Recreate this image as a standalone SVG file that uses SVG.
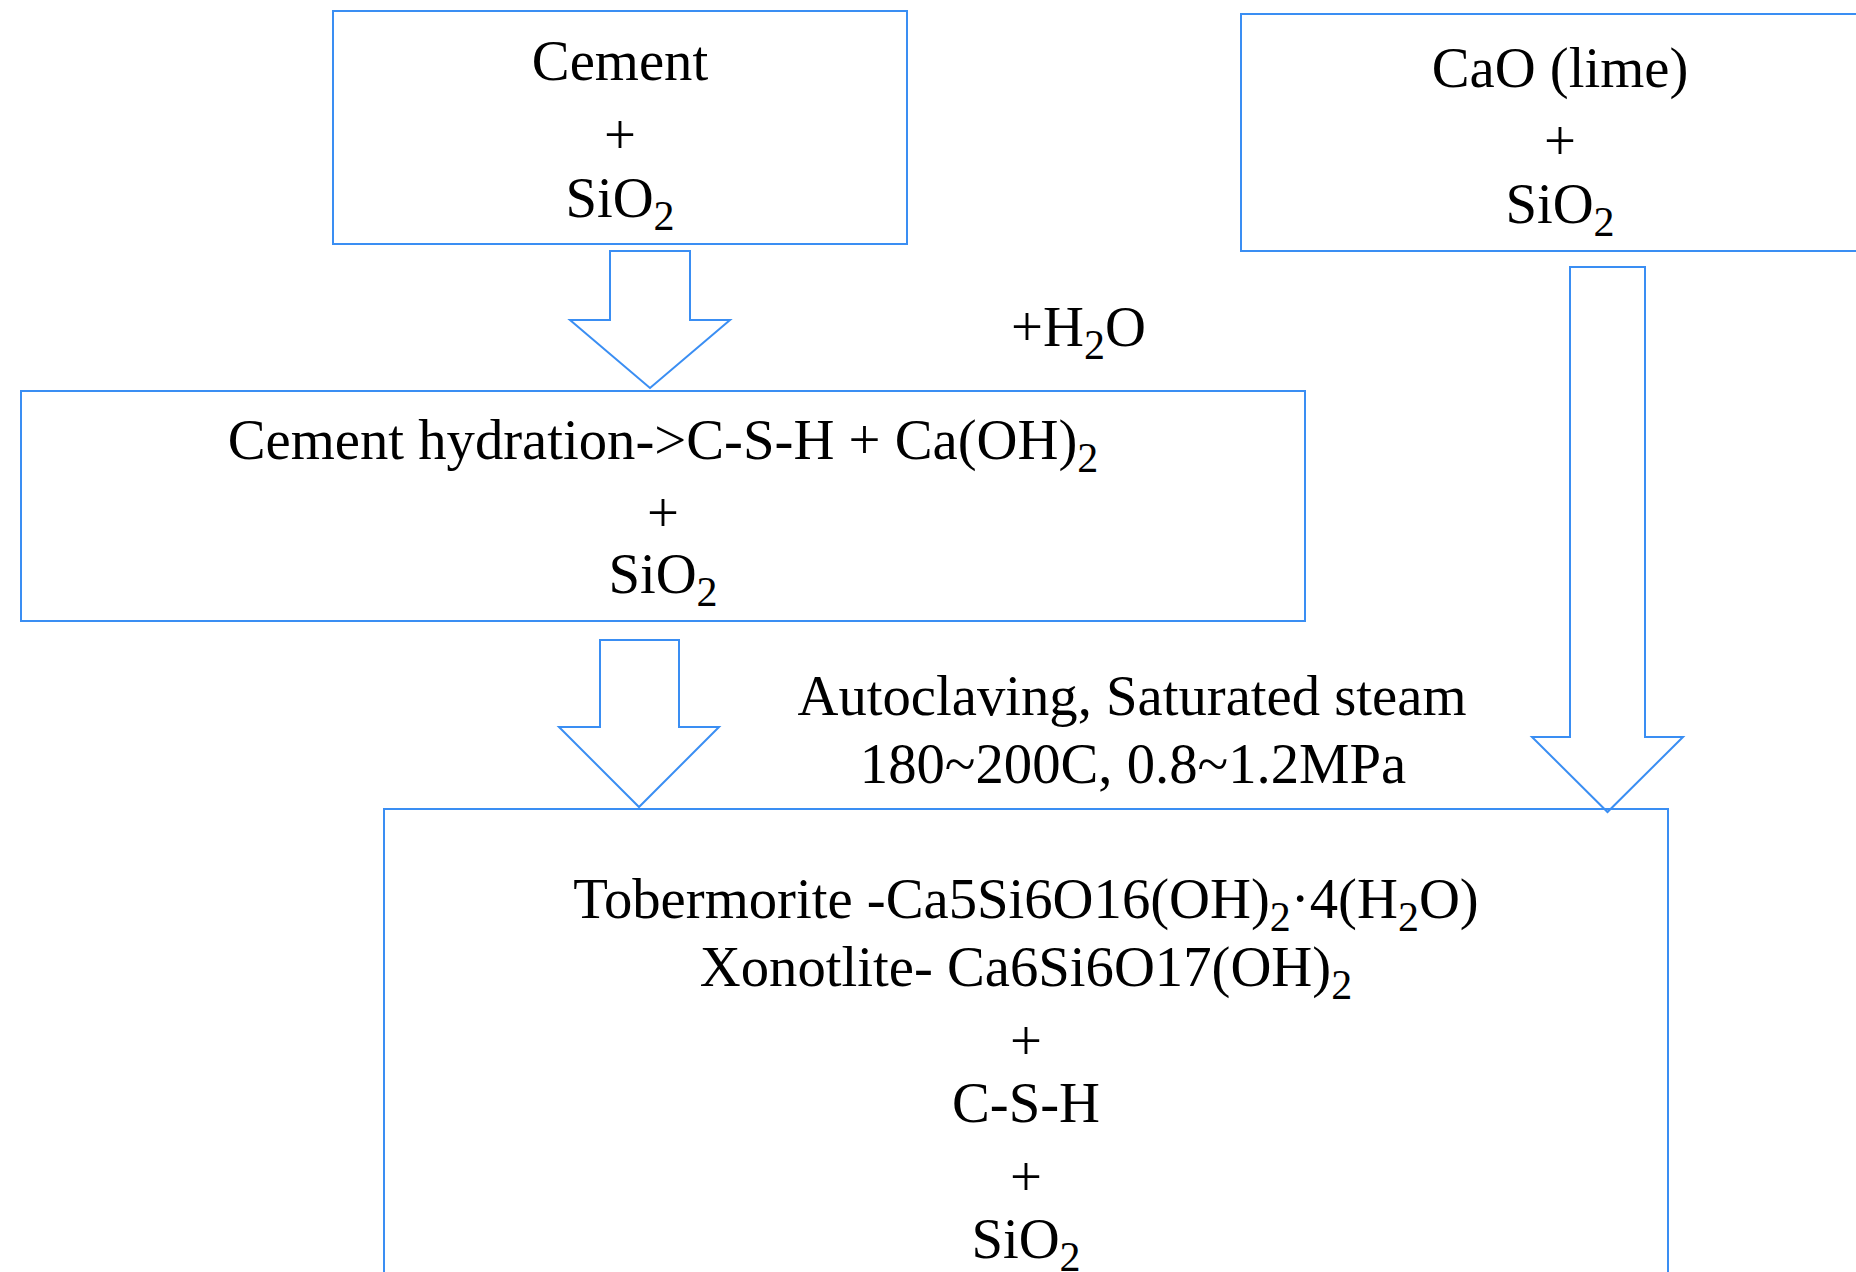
<svg xmlns="http://www.w3.org/2000/svg" width="1856" height="1272" viewBox="0 0 1856 1272">
  <style>
    .box { fill: none; stroke: #3a8ef3; stroke-width: 2; }
    .arrow { fill: none; stroke: #3a8ef3; stroke-width: 2; stroke-linejoin: miter; }
    .t { font-family: "Liberation Serif", "Times New Roman", serif; font-size: 56.7px; fill: #000; text-anchor: middle; }
    .ts { text-anchor: start; }
    .sub { font-size: 42px; }
  </style>
  <rect width="1856" height="1272" fill="#ffffff"/>

  <g id="connectors">
    <polygon class="arrow" points="610,251 690,251 690,320 730,320 650,388 570,320 610,320"/>
    <polygon class="arrow" points="600,640 679,640 679,727 719,727 639,807 559,727 600,727"/>
    <polygon class="arrow" points="1570,267 1645,267 1645,737 1683,737 1607.5,812 1532,737 1570,737"/>
  </g>

  <g id="node-cement">
    <rect class="box" x="333" y="11" width="574" height="233"/>
    <text class="t" x="620" y="80">Cement</text>
    <text class="t" x="620" y="154">+</text>
    <text class="t" x="620" y="217">SiO<tspan class="sub" dy="13">2</tspan></text>
  </g>

  <g id="node-cao">
    <rect class="box" x="1241" y="14" width="638" height="237"/>
    <text class="t" x="1560" y="87">CaO (lime)</text>
    <text class="t" x="1560" y="160">+</text>
    <text class="t" x="1560" y="223">SiO<tspan class="sub" dy="13">2</tspan></text>
  </g>

  <g id="label-water">
    <text class="t ts" x="1011" y="346">+H<tspan class="sub" dy="13">2</tspan><tspan dy="-13">O</tspan></text>
  </g>

  <g id="node-hydration">
    <rect class="box" x="21" y="391" width="1284" height="230"/>
    <text class="t" x="663" y="459">Cement hydration-&gt;C-S-H + Ca(OH)<tspan class="sub" dy="13">2</tspan></text>
    <text class="t" x="663" y="532">+</text>
    <text class="t" x="663" y="593">SiO<tspan class="sub" dy="13">2</tspan></text>
  </g>

  <g id="label-autoclave">
    <text class="t" x="1132" y="715">Autoclaving, Saturated steam</text>
    <text class="t" x="1133" y="783">180~200C, 0.8~1.2MPa</text>
  </g>

  <g id="node-products">
    <rect class="box" x="384" y="809" width="1284" height="520"/>
    <text class="t" x="1026" y="918">Tobermorite -Ca5Si6O16(OH)<tspan class="sub" dy="13">2</tspan><tspan dy="-13">·4(H</tspan><tspan class="sub" dy="13">2</tspan><tspan dy="-13">O)</tspan></text>
    <text class="t" x="1026" y="986">Xonotlite- Ca6Si6O17(OH)<tspan class="sub" dy="13">2</tspan></text>
    <text class="t" x="1026" y="1060">+</text>
    <text class="t" x="1026" y="1122">C-S-H</text>
    <text class="t" x="1026" y="1196">+</text>
    <text class="t" x="1026" y="1258">SiO<tspan class="sub" dy="13">2</tspan></text>
  </g>
</svg>
